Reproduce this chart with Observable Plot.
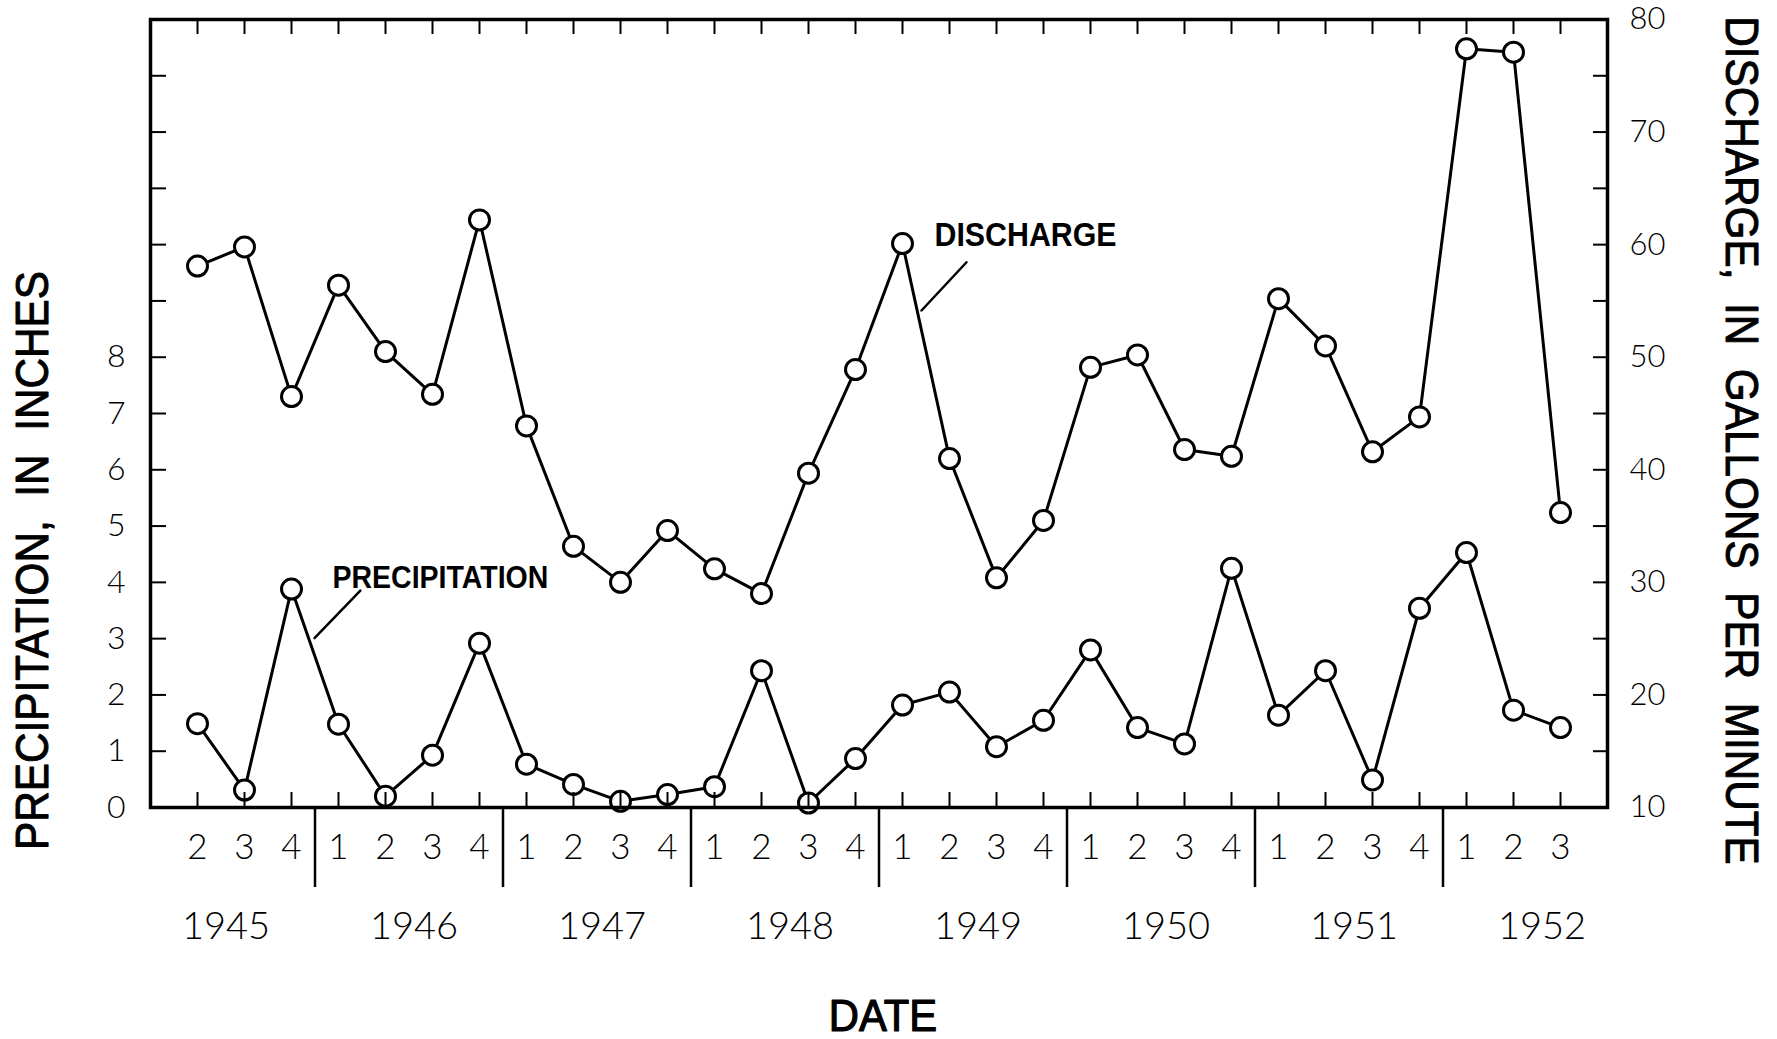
<!DOCTYPE html>
<html>
<head>
<meta charset="utf-8">
<script src="https://cdn.jsdelivr.net/npm/d3@7"></script>
<script src="https://cdn.jsdelivr.net/npm/@observablehq/plot@0.6"></script>
<style>
  html, body { margin: 0; padding: 0; background: #fff; }
  #chart { width: 1777px; height: 1039px; }
</style>
</head>
<body>
<div id="chart"></div>
<script>
// ---------------- DATA ----------------
const periodYear = [1945,1945,1945, 1946,1946,1946,1946, 1947,1947,1947,1947, 1948,1948,1948,1948,
                    1949,1949,1949,1949, 1950,1950,1950,1950, 1951,1951,1951,1951, 1952,1952,1952];
const periodQuarter = [2,3,4, 1,2,3,4, 1,2,3,4, 1,2,3,4, 1,2,3,4, 1,2,3,4, 1,2,3,4, 1,2,3];
// discharge, gallons per minute
const discharge = [58.1, 59.8, 46.5, 56.4, 50.5, 46.7, 62.2, 43.9, 33.2, 30.0, 34.6, 31.2, 29.0, 39.7, 48.9,
                   60.1, 41.0, 30.4, 35.5, 49.1, 50.2, 41.8, 41.2, 55.2, 51.0, 41.6, 44.7, 77.4, 77.1, 36.2];
// precipitation, inches
const precipitation = [1.49, 0.31, 3.88, 1.48, 0.20, 0.93, 2.92, 0.77, 0.41, 0.11, 0.23, 0.37, 2.43, 0.08, 0.87,
                       1.82, 2.05, 1.08, 1.55, 2.80, 1.42, 1.13, 4.25, 1.64, 2.43, 0.49, 3.54, 4.53, 1.73, 1.42];
const yearLabels = ["1945", "1946", "1947", "1948", "1949", "1950", "1951", "1952"];
const precipTickLabels = [0, 1, 2, 3, 4, 5, 6, 7, 8];
const precipTicks = [0, 1, 2, 3, 4, 5, 6, 7, 8, 9, 10, 11, 12, 13, 14];
const dischargeTickLabels = [10, 20, 30, 40, 50, 60, 70, 80];
const dischargeTicks = [10, 15, 20, 25, 30, 35, 40, 45, 50, 55, 60, 65, 70, 75, 80];
const leftTitle = "PRECIPITATION,\u00a0 IN\u00a0 INCHES";
const rightTitle = "DISCHARGE,\u00a0 IN\u00a0 GALLONS\u00a0 PER\u00a0 MINUTE";
const xTitle = "DATE";
const dischargeLabel = "DISCHARGE";
const precipLabel = "PRECIPITATION";

// ---------------- LAYOUT ----------------
const W = 1777, H = 1039;
const mL = 150, mR = 170, mT = 19, mB = 232;
const frameW = W - mL - mR, frameH = H - mT - mB;

const firstYear = periodYear[0], firstQ = periodQuarter[0];
const qIndex = (yr, q) => (yr - firstYear) * 4 + (q - firstQ);
// discharge axis aligned to precipitation axis: lowest discharge tick sits on 0 in.
const dMin = dischargeTicks[0];
const dPerInch = (dischargeTicks[dischargeTicks.length - 1] - dMin) / precipTicks[precipTicks.length - 1];
const dToY = d => (d - dMin) / dPerInch;

const rows = periodYear.map((yr, k) => ({
  i: qIndex(yr, periodQuarter[k]), year: yr, quarter: periodQuarter[k],
  discharge: discharge[k], precipitation: precipitation[k]
}));
const yearBreaks = yearLabels.slice(1).map(y => qIndex(+y, 1) - 0.5);

const digitFont = "Lato, 'Open Sans', sans-serif";
const titleFont = "'Liberation Sans', Arial, sans-serif";
const lineShape = { draw(context, l) { context.moveTo(0, 0); context.lineTo(0, -l); } };

const dischargeAnchor = rows.find(d => d.year === 1949 && d.quarter === 1);
const precipAnchor = rows.find(d => d.year === 1945 && d.quarter === 4);

const chart = Plot.plot({
  width: W, height: H,
  marginLeft: mL, marginRight: mR, marginTop: mT, marginBottom: mB,
  style: { background: "#fff", color: "#000", overflow: "visible" },
  x: { domain: [qIndex(+yearLabels[0], 1), qIndex(+yearLabels[yearLabels.length - 1], 4)], axis: null },
  y: { domain: [0, precipTicks[precipTicks.length - 1]], axis: null },
  marks: [
    // series
    Plot.line(rows, { x: "i", y: d => dToY(d.discharge), stroke: "#000", strokeWidth: 3 }),
    Plot.line(rows, { x: "i", y: "precipitation", stroke: "#000", strokeWidth: 3 }),
    Plot.dot(rows, { x: "i", y: d => dToY(d.discharge), r: 10, fill: "#fff", stroke: "#000", strokeWidth: 3 }),
    Plot.dot(rows, { x: "i", y: "precipitation", r: 10, fill: "#fff", stroke: "#000", strokeWidth: 3 }),
    // inward ticks
    Plot.tickY(precipTicks, { y: d => d, insetRight: frameW - 16, stroke: "#000", strokeWidth: 2 }),
    Plot.tickY(dischargeTicks, { y: d => dToY(d), insetLeft: frameW - 14, stroke: "#000", strokeWidth: 2 }),
    Plot.tickX(rows, { x: "i", insetBottom: frameH - 15, stroke: "#000", strokeWidth: 2 }),
    Plot.tickX(rows, { x: "i", insetTop: frameH - 15, stroke: "#000", strokeWidth: 2 }),
    // year separators below the axis
    Plot.ruleX(yearBreaks, { x: d => d, insetTop: frameH, insetBottom: -80, stroke: "#000", strokeWidth: 2.5 }),
    Plot.frame({ stroke: "#000", strokeWidth: 3.5 }),
    // tick labels
    Plot.text(precipTickLabels, { y: d => d, text: d => String(d), frameAnchor: "left", textAnchor: "end", lineAnchor: "middle", dx: -25,
      fontSize: 32, fontFamily: digitFont, fontWeight: 300, fill: "#000" }),
    Plot.text(dischargeTickLabels, { y: d => dToY(d), text: d => String(d), frameAnchor: "right", textAnchor: "start", lineAnchor: "middle", dx: 22,
      fontSize: 31, fontFamily: digitFont, fontWeight: 300, fill: "#000" }),
    Plot.text(rows, { x: "i", text: d => String(d.quarter), frameAnchor: "bottom", textAnchor: "middle", lineAnchor: "middle", dy: 40,
      fontSize: 35, fontFamily: digitFont, fontWeight: 300, fill: "#000" }),
    Plot.text(yearLabels, { x: d => qIndex(+d, 1) + 1.5, text: d => d, frameAnchor: "bottom", textAnchor: "middle", lineAnchor: "middle", dx: 5, dy: 119,
      fontSize: 38, fontFamily: digitFont, fontWeight: 300, fill: "#000" }),
    // axis titles
    Plot.text([leftTitle], { text: d => d, frameAnchor: "left", textAnchor: "middle", lineAnchor: "middle", rotate: -90, dx: -117, dy: 147,
      fontSize: 46, fontFamily: titleFont, fill: "#000", stroke: "#000", strokeWidth: 1, paintOrder: "stroke" }),
    Plot.text([rightTitle], { text: d => d, frameAnchor: "right", textAnchor: "middle", lineAnchor: "middle", rotate: 90, dx: 133, dy: 27,
      fontSize: 46, fontFamily: titleFont, fill: "#000", stroke: "#000", strokeWidth: 1, paintOrder: "stroke" }),
    Plot.text([xTitle], { text: d => d, frameAnchor: "bottom", textAnchor: "middle", lineAnchor: "middle", dx: 4, dy: 209,
      fontSize: 44, fontFamily: titleFont, fill: "#000", stroke: "#000", strokeWidth: 1.2, paintOrder: "stroke" }),
    // series annotations
    Plot.text([dischargeAnchor], { x: "i", y: d => dToY(d.discharge), text: () => dischargeLabel, textAnchor: "start", lineAnchor: "middle",
      dx: 32, dy: -8, fontSize: 33, fontWeight: "bold", fontFamily: titleFont, fill: "#000" }),
    Plot.vector([dischargeAnchor], { x: "i", y: d => dToY(d.discharge), dx: 19, dy: 67, length: 66, rotate: 43,
      anchor: "start", shape: lineShape, stroke: "#000", strokeWidth: 2.5 }),
    Plot.text([precipAnchor], { x: "i", y: "precipitation", text: () => precipLabel, textAnchor: "start", lineAnchor: "middle",
      dx: 41, dy: -11, fontSize: 31, fontWeight: "bold", fontFamily: titleFont, fill: "#000" }),
    Plot.vector([precipAnchor], { x: "i", y: "precipitation", dx: 23, dy: 49, length: 66, rotate: 44,
      anchor: "start", shape: lineShape, stroke: "#000", strokeWidth: 2.5 })
  ]
});

// horizontally condense the sans-serif title lettering
const condense = new Map([[leftTitle, 0.92], [rightTitle, 0.92], [xTitle, 0.95], [dischargeLabel, 0.92], [precipLabel, 0.92]]);
chart.querySelectorAll("text").forEach(t => {
  const s = condense.get(t.textContent);
  if (s) t.setAttribute("transform", `${t.getAttribute("transform") || ""} scale(${s},1)`);
});

document.getElementById("chart").appendChild(chart);
</script>
</body>
</html>
